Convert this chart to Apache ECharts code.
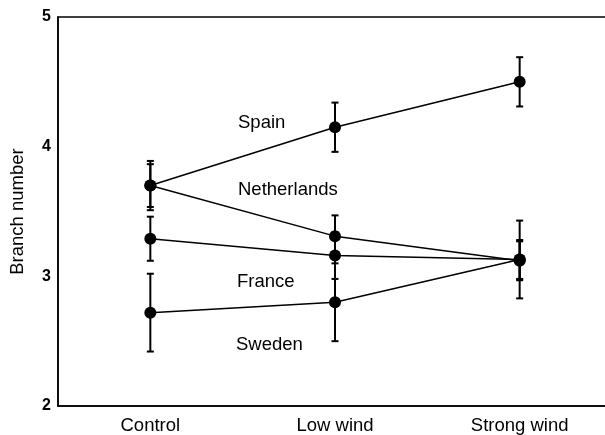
<!DOCTYPE html>
<html>
<head>
<meta charset="utf-8">
<script src="https://cdn.jsdelivr.net/npm/echarts@6/dist/echarts.min.js"></script>
<style>html,body{margin:0;padding:0;background:#fff}#c{width:605px;height:435px}</style>
</head>
<body>
<div id="c"></div>
<script>
const categories = ['Control', 'Low wind', 'Strong wind'];
const yTicks = [2, 3, 4, 5];
const spain = [3.70, 4.15, 4.50];
const spainErr = [0.19, 0.19, 0.19];
const netherlands = [3.70, 3.31, 3.12];
const netherlandsErr = [0.165, 0.16, 0.15];
const france = [3.29, 3.16, 3.13];
const franceErr = [0.17, 0.18, 0.15];
const sweden = [2.72, 2.80, 3.13];
const swedenErr = [0.30, 0.30, 0.30];
const countryLabels = ['Spain', 'Netherlands', 'France', 'Sweden'];

const groups = [
  [spain, spainErr],
  [netherlands, netherlandsErr],
  [france, franceErr],
  [sweden, swedenErr]
];

const FONT = 'Liberation Sans, Arial, sans-serif';
const chart = echarts.init(document.getElementById('c'));
const series = [];
groups.forEach(([vals, errs], gi) => {
  series.push({
    type: 'custom',
    name: countryLabels[gi] + ' err',
    data: vals.map((v, i) => [i, v - errs[i], v + errs[i]]),
    renderItem: function (params, api) {
      const lo = api.coord([api.value(0), api.value(1)]);
      const hi = api.coord([api.value(0), api.value(2)]);
      const hw = 3.5;
      const st = { stroke: '#000', lineWidth: 2 };
      return {
        type: 'group',
        children: [
          { type: 'line', shape: { x1: lo[0], y1: lo[1], x2: hi[0], y2: hi[1] }, style: st },
          { type: 'line', shape: { x1: lo[0] - hw, y1: lo[1], x2: lo[0] + hw, y2: lo[1] }, style: st },
          { type: 'line', shape: { x1: hi[0] - hw, y1: hi[1], x2: hi[0] + hw, y2: hi[1] }, style: st }
        ]
      };
    },
    z: 2
  });
  series.push({
    type: 'line',
    name: countryLabels[gi],
    data: vals,
    symbol: 'circle',
    symbolSize: 12,
    lineStyle: { color: '#000', width: 1.5 },
    itemStyle: { color: '#000' },
    z: 3
  });
});

const labelPos = [[238, 123], [238, 190], [237, 282], [236, 345]];

chart.setOption({
  animation: false,
  backgroundColor: '#fff',
  grid: {
    left: 58, top: 17, width: 554, height: 389,
    show: true, borderColor: '#000', borderWidth: 1.5,
    outerBoundsMode: 'none', containLabel: false
  },
  xAxis: {
    type: 'category',
    data: categories,
    boundaryGap: true,
    axisLine: { lineStyle: { color: '#000', width: 1.5 } },
    axisTick: { show: false },
    axisLabel: { color: '#000', fontSize: 18.5, fontFamily: FONT, margin: 10 },
    splitLine: { show: false }
  },
  yAxis: {
    type: 'value',
    min: yTicks[0], max: yTicks[yTicks.length - 1], interval: 1,
    name: 'Branch number',
    nameLocation: 'middle',
    nameRotate: 90,
    nameGap: 31,
    nameTextStyle: { color: '#000', fontSize: 18.5, fontFamily: FONT },
    axisLine: { show: true, lineStyle: { color: '#000', width: 1.5 } },
    axisTick: { show: false },
    axisLabel: { color: '#000', fontSize: 16, fontWeight: 'bold', fontFamily: FONT, margin: 7 },
    splitLine: { show: false }
  },
  graphic: countryLabels.map((t, i) => ({
    type: 'text',
    left: labelPos[i][0],
    top: labelPos[i][1] - 10,
    style: { text: t, fill: '#000', fontSize: 18.5, fontFamily: FONT },
    z: 10
  })),
  series: series
});
</script>
</body>
</html>
